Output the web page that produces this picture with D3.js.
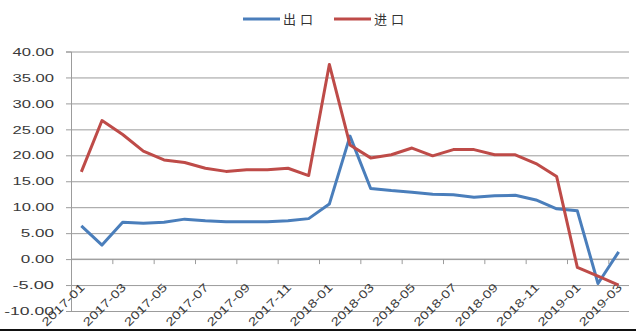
<!DOCTYPE html>
<html>
<head>
<meta charset="utf-8">
<script src="https://cdn.jsdelivr.net/npm/d3@7"></script>
<style>
  body { margin: 0; background: #fff; }
  svg { display: block; }
  .lbl { font-family: "Liberation Sans", Arial, sans-serif; font-size: 11.5px; fill: #3a3a3a; }
  .leg { font-family: "Noto Sans CJK SC", sans-serif; font-size: 13px; fill: #333; letter-spacing: 4px; }
</style>
</head>
<body>
<svg id="chart"></svg>
<script>
const W = 636, H = 331;

const months = ["2017-01","2017-02","2017-03","2017-04","2017-05","2017-06","2017-07","2017-08","2017-09",
  "2017-10","2017-11","2017-12","2018-01","2018-02","2018-03","2018-04","2018-05","2018-06","2018-07",
  "2018-08","2018-09","2018-10","2018-11","2018-12","2019-01","2019-02","2019-03"];
// 出口
const exportVals = [6.4,2.7,7.1,6.9,7.1,7.7,7.4,7.2,7.2,7.2,7.4,7.8,10.6,23.7,13.6,13.2,12.9,12.5,12.4,
  11.9,12.2,12.3,11.4,9.7,9.3,-4.7,1.4];
// 进口
const importVals = [16.8,26.7,24.0,20.8,19.1,18.6,17.5,16.9,17.2,17.2,17.5,16.1,37.5,22.0,19.5,20.1,21.4,
  19.9,21.1,21.1,20.1,20.1,18.4,15.9,-1.6,-3.3,-5.0];
const yTicks = [-10,-5,0,5,10,15,20,25,30,35,40];
const seriesNames = ["出口","进口"];
const colors = ["#4a7ebb","#be4b48"];

const plotL = 71, plotR = 629, plotT = 51.5, plotB = 311;
const gridCol = '#9c9c9c';

const svg = d3.select('#chart').attr('width', W).attr('height', H);

const x = d3.scaleBand().domain(months).range([plotL, plotR]).padding(0);
const y = d3.scaleLinear().domain([-10, 40]).range([plotB, plotT]);

// gridlines
svg.append('g')
  .attr('transform', 'translate(' + plotL + ',0)')
  .call(d3.axisLeft(y).tickValues(yTicks).tickSize(-(plotR - plotL)).tickFormat(''))
  .call(g => g.select('.domain').remove())
  .call(g => g.selectAll('line').attr('stroke', gridCol).attr('stroke-width', 1));

// y axis
const yAx = svg.append('g')
  .attr('transform', 'translate(' + plotL + ',0)')
  .call(d3.axisLeft(y).tickValues(yTicks).tickSize(5).tickPadding(12).tickFormat(d => d.toFixed(2)));
yAx.select('.domain').attr('stroke', gridCol);
yAx.selectAll('line').attr('stroke', gridCol);
yAx.selectAll('text').attr('class', 'lbl').attr('font-size', null).attr('font-family', null)
  .attr('fill', null)
  .attr('textLength', d => d.toFixed(2).length * 8.3)
  .attr('lengthAdjust', 'spacingAndGlyphs');

// bottom edge
svg.append('rect').attr('x', 0).attr('y', 329).attr('width', W).attr('height', 2).attr('fill', '#111');

// x axis at zero
const evenMonths = months.filter((m, i) => i % 2 === 0);
const xAx = svg.append('g').attr('transform', 'translate(0,' + y(0) + ')');
xAx.append('line').attr('x1', plotL).attr('x2', plotR).attr('stroke', gridCol);
xAx.selectAll('.tk').data(evenMonths).enter().append('line')
  .attr('x1', d => x(d) + 0.5).attr('x2', d => x(d) + 0.5)
  .attr('y1', 0).attr('y2', 5).attr('stroke', gridCol);
xAx.selectAll('.xl').data(evenMonths).enter().append('text')
  .attr('class', 'lbl')
  .attr('text-anchor', 'end')
  .attr('textLength', 55).attr('lengthAdjust', 'spacingAndGlyphs')
  .attr('transform', d => 'translate(' + (x(d) + x.bandwidth() / 2 + 4) + ',29) rotate(-45)')
  .text(d => d);

// lines
const line = d3.line()
  .x((d, i) => x(months[i]) + x.bandwidth() / 2)
  .y(d => y(d));

[exportVals, importVals].forEach((vals, k) => {
  svg.append('path')
    .datum(vals)
    .attr('fill', 'none')
    .attr('stroke', colors[k])
    .attr('stroke-width', 3)
    .attr('stroke-linejoin', 'round')
    .attr('d', line);
});

// legend
const legX = [243, 334];
seriesNames.forEach((name, k) => {
  const g = svg.append('g').attr('transform', 'translate(' + legX[k] + ',19)');
  g.append('line').attr('x1', 0).attr('x2', 37).attr('stroke', colors[k]).attr('stroke-width', 3);
  g.append('text').attr('class', 'leg').attr('x', 40).attr('y', 5).text(name);
});
</script>
</body>
</html>
